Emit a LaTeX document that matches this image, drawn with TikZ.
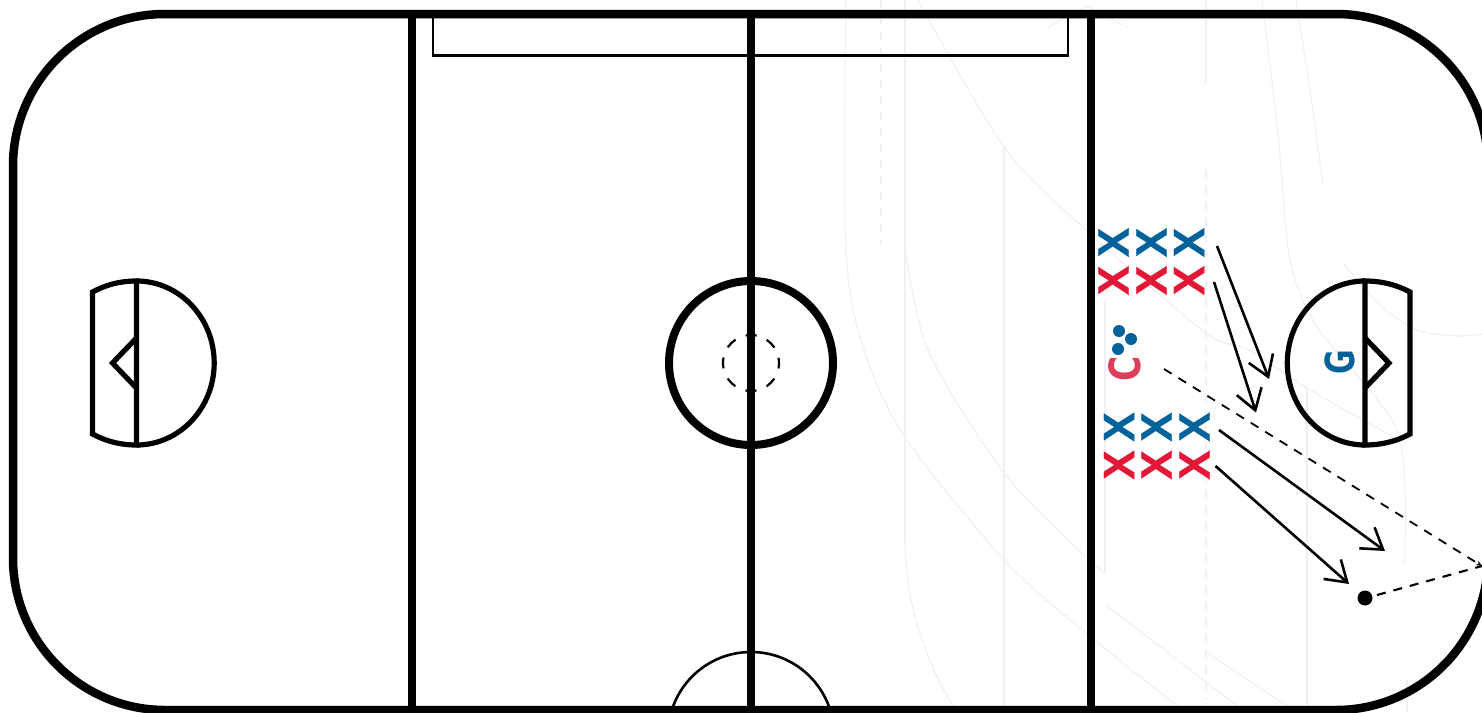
\documentclass[tikz,border=0pt]{standalone}
\usepackage{fontspec}
\setmainfont{Liberation Sans}
\newfontfamily\glyphfont{DejaVu Sans}
\newfontfamily\xfont[FakeBold=0.6]{Liberation Sans Bold}
\usetikzlibrary{arrows.meta}
\definecolor{teamblue}{HTML}{00629B}
\definecolor{teamred}{HTML}{E31837}
\definecolor{coachred}{HTML}{DC3F5B}
\definecolor{faint}{HTML}{F0F0F0}
\tikzset{
  faintline/.style={draw=faint,line width=1.2pt},
  faintdash/.style={faintline,dash pattern=on 8pt off 8pt},
  boards/.style={draw=black,line width=8.5pt},
  rinkline/.style={draw=black,line width=8pt},
  crease/.style={draw=black,line width=5.2pt,line join=miter},
  thinbox/.style={draw=black,line width=2.6pt},
  bluex/.style={text=teamblue,font=\xfont\fontsize{44pt}{44pt}\selectfont,inner sep=0pt,rotate=90},
  redx/.style={bluex,text=teamred},
  dotmark/.style={circle,fill=teamblue,inner sep=0pt,minimum size=12pt},
  puckmark/.style={circle,fill=black,inner sep=0pt,minimum size=15pt},
  skate/.style={draw=black,line width=2.6pt,-{Straight Barb[length=20pt,width=26pt,line width=2.6pt]}},
  pass/.style={draw=black,line width=1.8pt,dash pattern=on 9pt off 8pt},
  passtip/.style={pass,-{Stealth[length=6pt,width=5pt]}}
}
\begin{document}
\begin{tikzpicture}[x=1pt,y=-1pt]
\useasboundingbox (0,0) rectangle (1482,712);
\clip (0,0) rectangle (1482,712);
% faint background traces
\draw[faintline] plot[smooth] coordinates {(846,0) (846,250) (864,350) (905,437) (1004,560) (1086,633) (1180,708)};
\draw[faintdash] (881,0) -- (881,245);
\draw[faintline] (905,0) -- (905,540);
\draw[faintline] (905,540) .. controls (905,610) and (930,670) .. (957,712);
\draw[faintline] plot[smooth] coordinates {(905,247) (928,350) (1004,473) (1086,557) (1105,573)};
\draw[faintline] (1105,300) -- (1105,573);
\draw[faintline] plot[smooth] coordinates {(918,0) (1004,147) (1086,230) (1206,333) (1249,350) (1307,388) (1393,437)};
\draw[faintline] (1004,147) -- (1004,712);
\draw[faintline] (1206,0) -- (1206,83);
\draw[faintdash] (1206,170) -- (1206,700);
\draw[faintline] (1307,388) -- (1307,712);
\draw[faintline] (1106,605) -- (1245,712);
\draw[faintline] (1206,652) -- (1290,708);
\draw[faintline] plot[smooth] coordinates {(1262,0) (1278,133) (1290,260) (1317,327) (1367,387) (1397,430) (1405,483) (1405,563)};
\draw[faintline] (1407,680) -- (1407,712);
\draw[faintline] plot[smooth] coordinates {(1296,0) (1310,90) (1323,185)};
\draw[faintline] plot[smooth] coordinates {(1343,263) (1380,305) (1417,330) (1457,336) (1482,334)};
\draw[faintline] (1047,28) -- (1086,6) -- (1129,28);
% rink lines
\draw[thinbox] (433,14) rectangle (1068,55.5);
\draw[thinbox] (751,735) circle[radius=83];
\draw[rinkline] (411.5,14) -- (411.5,711);
\draw[rinkline] (751,14) -- (751,711);
\draw[rinkline] (1090.5,14) -- (1090.5,711);
\draw[boards] (13,166) arc[start angle=180,end angle=270,radius=152] -- (1336,14) arc[start angle=270,end angle=360,radius=152] -- (1488,558) arc[start angle=0,end angle=90,radius=152] -- (165,710) arc[start angle=90,end angle=180,radius=152] -- cycle;
\draw[rinkline] (751,363) circle[radius=82];
\draw[draw=black,line width=2.2pt,dash pattern=on 11pt off 10.99pt,dash phase=5.5pt] (751,363) circle[radius=28];
% left crease
\draw[crease] (136.5,281) arc[start angle=-90,end angle=90,x radius=77.7,y radius=82];
\draw[crease] (136.5,281) .. controls (119.5,281) and (105.5,285) .. (92.5,292) -- (92.5,434) .. controls (105.5,441) and (119.5,445) .. (136.5,445) -- cycle;
\draw[crease] (136.5,338) -- (112.5,363) -- (136.5,388);
% right crease
\draw[crease] (1365,281) arc[start angle=270,end angle=90,x radius=77.7,y radius=82];
\draw[crease] (1365,281) .. controls (1382,281) and (1397,285) .. (1410,292) -- (1410,434) .. controls (1397,441) and (1382,445) .. (1365,445) -- cycle;
\draw[crease] (1365,338) -- (1389,363) -- (1365,388);
% players
\node[bluex] (b1) at (1113.5,242.5) {X};
\node[bluex] (b2) at (1151.5,242.5) {X};
\node[bluex] (b3) at (1189,242.5) {X};
\node[redx] (r1) at (1113.5,280.5) {X};
\node[redx] (r2) at (1151.5,280.5) {X};
\node[redx] (r3) at (1189,280.5) {X};
\node[bluex] (b4) at (1119,427) {X};
\node[bluex] (b5) at (1156.5,427) {X};
\node[bluex] (b6) at (1194.5,427) {X};
\node[redx] (r4) at (1119,465) {X};
\node[redx] (r5) at (1156.5,465) {X};
\node[redx] (r6) at (1194.5,465) {X};
\node[dotmark] (d1) at (1119,331) {};
\node[dotmark] (d2) at (1131,339) {};
\node[dotmark] (d3) at (1118,349) {};
\node[text=coachred,font=\glyphfont\fontsize{43pt}{43pt}\selectfont\bfseries,inner sep=0pt,rotate=90] (coach) at (1125,369) {\scalebox{0.8}[1]{C}};
\node[text=teamblue,font=\glyphfont\fontsize{40pt}{40pt}\selectfont\bfseries,inner sep=0pt,rotate=90] (goalie) at (1340,362) {\scalebox{0.75}[1]{G}};
\node[puckmark] (puck) at (1365,598) {};
% connectors
\coordinate (a1s) at (1217,246); \coordinate (a1e) at (1269,379);
\coordinate (a2s) at (1214,282); \coordinate (a2e) at (1256,412.5);
\coordinate (a3s) at (1219,430); \coordinate (a3e) at (1385,551);
\coordinate (a4s) at (1215.5,466); \coordinate (a4e) at (1349,584);
\coordinate (ps) at (1164,369); \coordinate (pm) at (1482,566);
\draw[skate] (a1s) -- (a1e);
\draw[skate] (a2s) -- (a2e);
\draw[skate] (a3s) -- (a3e);
\draw[skate] (a4s) -- (a4e);
\draw[passtip] (ps) -- (pm);
\draw[pass,line width=2.1pt] (puck.center) ++(12,-3) coordinate (pp) (pp) -- (pm);
\end{tikzpicture}
\end{document}
